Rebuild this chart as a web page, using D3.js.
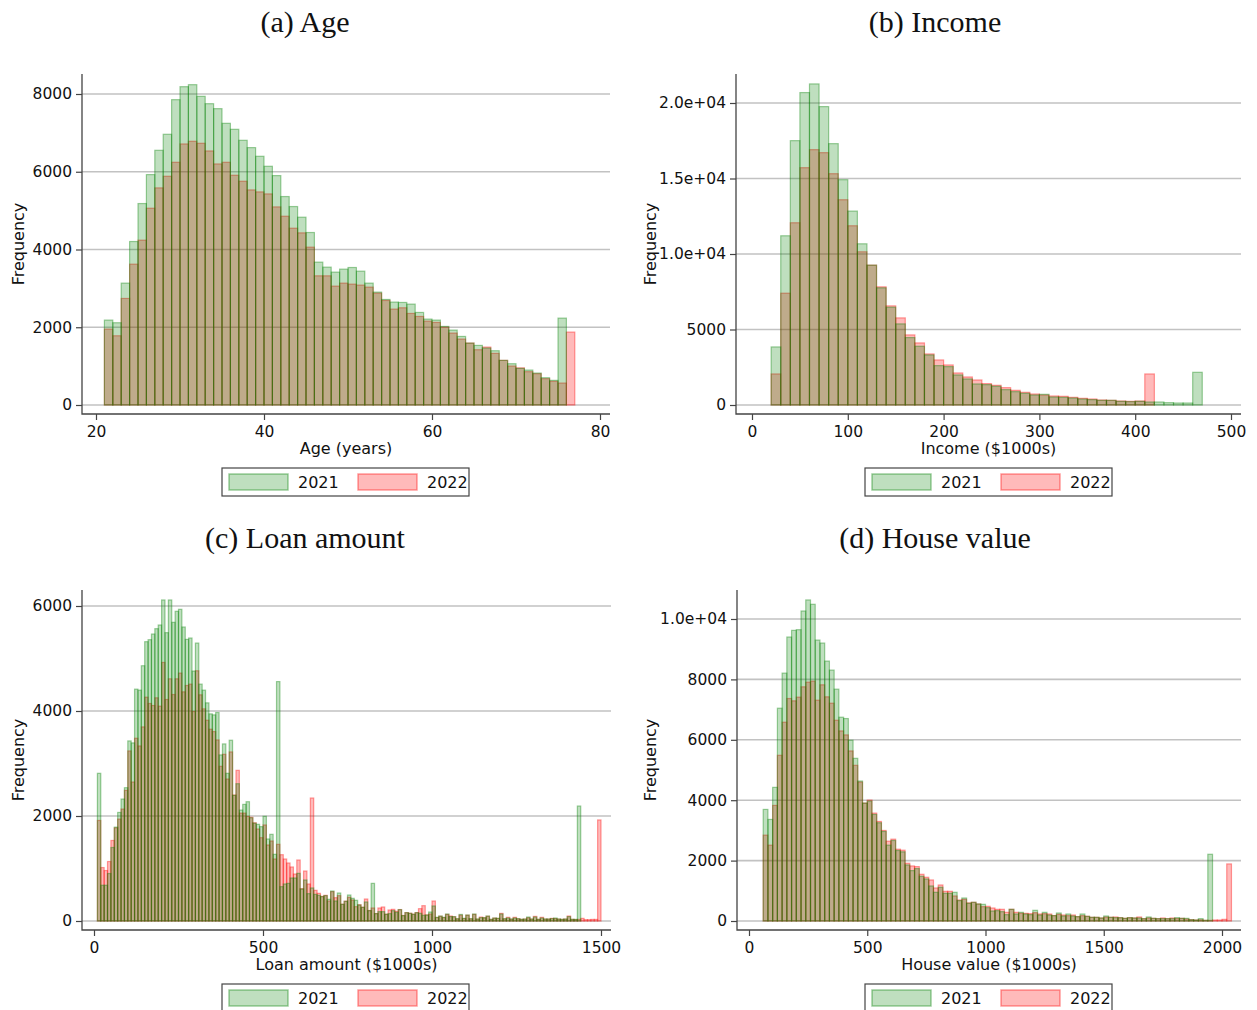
<!DOCTYPE html>
<html>
<head>
<meta charset="utf-8">
<script src="https://cdn.jsdelivr.net/npm/d3@7"></script>
<style>
  body { margin: 0; background: #fff; }
  svg text { font-family: "DejaVu Sans", sans-serif; fill: #111; }
</style>
</head>
<body>
<svg id="chart" width="1257" height="1010"></svg>
<script>
// ---- data (counts per bin) ----
const years = ['2021', '2022'];

// (a) Age, 1-year bins starting at 21
const ageStart = 21, ageWidth = 1;
const age2021 = [2184,2116,3135,4205,5182,5927,6552,6964,7854,8188,8240,7940,7751,7623,7246,7092,6809,6621,6398,6141,
  5901,5362,5105,4831,4437,3675,3546,3418,3495,3537,3443,3135,2904,2715,2647,2638,2595,2381,2210,2184,
  2021,1927,1764,1593,1533,1465,1396,1148,1062,942,899,822,702,634,2235,0];
const age2022 = [1953,1781,2741,3623,4240,5062,5585,5884,6244,6715,6784,6732,6535,6201,6244,5910,5756,5533,5482,5430,
  5096,4856,4548,4428,4060,3323,3323,3058,3135,3109,3084,3032,2878,2689,2467,2501,2355,2278,2158,2124,
  2004,1850,1696,1593,1422,1490,1328,1148,1002,955,857,805,677,608,565,1876];

// (b) Income, $10k bins starting at 20
const incStart = 20, incWidth = 10;
const inc2021 = [3846,11207,17507,20690,21264,19761,17308,14920,12843,10676,9262,7759,6477,5371,4465,3890,3316,2608,2542,1989,
  1724,1393,1348,1238,1017,884,774,663,707,530,508,464,398,354,309,309,243,221,243,199,199,155,133,133,2166];
const inc2022 = [2056,7405,12069,15716,16910,16711,15318,13594,11870,10146,9262,7825,6565,5769,4642,4111,3382,2984,2653,2122,
  1857,1658,1415,1304,1149,973,840,729,663,597,575,508,442,398,332,309,265,243,265,2056,0,0,0,0,0];

// (c) Loan amount, $10k bins starting at 10
const loanStart = 10, loanWidth = 10;
const loan2021 = [2813,681,681,904,1400,1788,2068,2323,2539,3430,
  3392,4416,4397,4862,5320,5358,5466,5568,5638,6115,
  5492,6115,5689,5899,5937,5600,5364,5390,4760,5294,
  4512,4397,4155,3945,3926,3971,3163,3373,2813,3443,
  2393,2615,2113,2221,2272,1966,1864,1841,1797,1994,
  1562,1651,1270,4560,654,705,717,819,819,908,
  610,781,521,629,508,489,463,483,413,571,
  381,533,317,375,495,432,394,305,260,362,
  197,717,140,178,178,127,140,197,165,216,
  102,159,146,127,159,146,108,114,171,286,
  70,95,70,133,83,83,44,125,51,114,
  44,133,38,63,63,95,32,57,51,133,
  44,57,38,57,44,32,38,76,38,76,
  32,57,38,38,44,57,38,32,38,83,
  32,30,2190,0,0,0,0,0,0];
const loan2022 = [1915,1018,961,1133,1534,1775,1941,2132,2488,3239,
  2647,3481,3334,3697,4263,4143,4104,4251,4092,4925,
  4219,4613,4314,4613,4722,4365,4486,4512,3990,4766,
  4308,4041,3824,3653,3608,3449,2946,3175,2704,3220,
  2400,2870,2055,2055,1992,1975,1870,1752,1587,1829,
  1448,1524,1181,1460,1263,1181,1105,1029,895,1162,
  615,952,705,2343,584,527,468,489,381,559,
  444,483,320,378,451,400,273,310,262,419,
  200,248,142,248,267,130,210,222,184,218,
  105,160,148,130,160,235,292,116,133,381,
  65,90,65,125,95,80,40,110,45,110,
  40,125,35,75,60,90,30,55,48,145,
  40,70,35,70,42,30,36,63,35,88,
  30,70,36,35,50,45,35,30,36,95,
  30,28,30,50,25,25,30,30,1925];

// (d) House value, $20k bins starting at 60
const houseStart = 60, houseWidth = 20;
const house2021 = [3695,3363,4425,7046,8208,9403,9624,9646,10265,10631,
  10487,9303,9204,8606,8308,7677,6748,6704,5985,5387,
  4635,3905,3971,3529,3252,2965,2511,2666,2334,2290,
  1856,1669,1735,1481,1392,1160,950,1116,917,917,
  950,674,762,586,619,564,552,442,331,343,
  309,210,387,232,287,232,210,354,199,287,
  199,177,265,166,232,166,144,232,155,122,
  122,100,166,122,110,110,88,110,100,100,
  77,133,88,77,77,77,77,110,88,88,
  44,33,77,22,2210,0,0,0,0];
const house2022 = [2843,2511,3827,5487,6582,7367,7290,7412,7754,7909,
  7942,7312,7821,7423,7212,6648,6294,6162,5631,5155,
  4602,3905,4004,3573,3296,2998,2644,2710,2378,2345,
  1912,1823,1801,1547,1448,1359,1094,1193,983,983,
  829,696,718,600,619,564,475,486,431,387,
  387,287,387,287,254,254,243,276,232,243,
  232,180,221,199,177,199,144,177,155,122,
  122,100,130,122,133,110,88,110,100,133,
  77,100,88,77,100,77,100,80,88,66,
  44,33,40,22,22,33,33,55,1890];

// ---- layout ----
const panels = [
  { title: '(a) Age', xLabel: 'Age (years)', start: ageStart, width: ageWidth, g: age2021, r: age2022,
    xTicks: [20, 40, 60, 80], yTicks: [0, 2000, 4000, 6000, 8000],
    box: { left: 82, right: 610, top: 74, bottom: 414 },
    xDomain: [20, 80], xRange: [96, 600], yDomain: [0, 8000], yRange: [405, 94],
    cx: 305, titleY: 32, legendX: 222, yLabelX: 24 },
  { title: '(b) Income', xLabel: 'Income ($1000s)', start: incStart, width: incWidth, g: inc2021, r: inc2022,
    xTicks: [0, 100, 200, 300, 400, 500], yTicks: [0, 5000, 10000, 15000, 20000],
    box: { left: 736, right: 1241, top: 74, bottom: 414 },
    xDomain: [0, 500], xRange: [752, 1231], yDomain: [0, 20000], yRange: [405, 103],
    cx: 935, titleY: 32, legendX: 865, yLabelX: 656 },
  { title: '(c) Loan amount', xLabel: 'Loan amount ($1000s)', start: loanStart, width: loanWidth, g: loan2021, r: loan2022,
    xTicks: [0, 500, 1000, 1500], yTicks: [0, 2000, 4000, 6000],
    box: { left: 82, right: 611, top: 590, bottom: 930 },
    xDomain: [0, 1500], xRange: [94, 601], yDomain: [0, 6000], yRange: [921, 606],
    cx: 305, titleY: 548, legendX: 222, yLabelX: 24 },
  { title: '(d) House value', xLabel: 'House value ($1000s)', start: houseStart, width: houseWidth, g: house2021, r: house2022,
    xTicks: [0, 500, 1000, 1500, 2000], yTicks: [0, 2000, 4000, 6000, 8000, 10000],
    box: { left: 737, right: 1241, top: 590, bottom: 930 },
    xDomain: [0, 2000], xRange: [749, 1222], yDomain: [0, 10000], yRange: [921, 619],
    cx: 935, titleY: 548, legendX: 865, yLabelX: 656 }
];

const green = { fill: 'rgba(0,128,0,0.25)', stroke: 'rgba(0,128,0,0.38)' };
const red = { fill: 'rgba(255,0,0,0.27)', stroke: 'rgba(255,0,0,0.38)' };
const serif = '"Palatino Linotype", Palatino, "Liberation Serif", serif';
const fmtY = v => v >= 10000 ? (v / 1e4).toFixed(1) + 'e+04' : String(v);

const svg = d3.select('#chart');

function drawPanel(p) {
  const x = d3.scaleLinear().domain(p.xDomain).range(p.xRange);
  const y = d3.scaleLinear().domain(p.yDomain).range(p.yRange);
  const b = p.box;
  const g = svg.append('g');

  g.append('text')
    .attr('x', p.cx).attr('y', p.titleY)
    .attr('text-anchor', 'middle')
    .style('font-family', serif)
    .style('font-size', '30px')
    .text(p.title);

  // gridlines
  g.selectAll('.grid').data(p.yTicks).join('line')
    .attr('x1', b.left).attr('x2', b.right)
    .attr('y1', d => y(d)).attr('y2', d => y(d))
    .attr('stroke', '#c2c2c2')
    .attr('stroke-width', 1.6);

  // bars: 2022 underneath, 2021 on top
  [[p.r, red], [p.g, green]].forEach(([vals, col]) => {
    g.append('g').selectAll('rect')
      .data(vals.map((v, i) => ({ v, x0: p.start + i * p.width, x1: p.start + (i + 1) * p.width })).filter(d => d.v > 0))
      .join('rect')
      .attr('x', d => x(d.x0))
      .attr('width', d => x(d.x1) - x(d.x0))
      .attr('y', d => y(d.v))
      .attr('height', d => y(0) - y(d.v))
      .attr('fill', col.fill)
      .attr('stroke', col.stroke)
      .attr('stroke-width', 1.2);
  });

  // axes
  const yAxis = g.append('g')
    .attr('transform', `translate(${b.left},0)`)
    .call(d3.axisLeft(y).tickValues(p.yTicks).tickFormat(fmtY).tickSize(6).tickPadding(4));
  const xAxis = g.append('g')
    .attr('transform', `translate(0,${b.bottom})`)
    .call(d3.axisBottom(x).tickValues(p.xTicks).tickFormat(d3.format('d')).tickSize(6).tickPadding(6));
  [yAxis, xAxis].forEach(a => {
    a.select('.domain').remove();
    a.selectAll('line').attr('stroke', '#444').attr('stroke-width', 1.2);
    a.selectAll('text').style('font-size', '15.5px').attr('fill', '#111');
  });

  g.append('path')
    .attr('d', `M${b.left},${b.top}V${b.bottom}H${b.right}`)
    .attr('fill', 'none')
    .attr('stroke', '#444')
    .attr('stroke-width', 1.3);

  g.append('text')
    .attr('x', (b.left + b.right) / 2).attr('y', b.bottom + 40)
    .attr('text-anchor', 'middle')
    .style('font-size', '16px')
    .text(p.xLabel);

  g.append('text')
    .attr('transform', `translate(${p.yLabelX},${(b.top + b.bottom) / 2}) rotate(-90)`)
    .attr('text-anchor', 'middle')
    .style('font-size', '16px')
    .text('Frequency');

  // legend
  const lg = g.append('g').attr('transform', `translate(${p.legendX},${b.bottom + 54})`);
  lg.append('rect')
    .attr('width', 247).attr('height', 28)
    .attr('fill', '#fff').attr('stroke', '#444').attr('stroke-width', 1.2);
  [green, red].forEach((col, i) => {
    lg.append('rect')
      .attr('x', 7 + i * 129).attr('y', 6)
      .attr('width', 59).attr('height', 16)
      .attr('fill', col.fill).attr('stroke', col.stroke).attr('stroke-width', 1.5);
    lg.append('text')
      .attr('x', 76 + i * 129).attr('y', 20)
      .style('font-size', '16px')
      .text(years[i]);
  });
}

panels.forEach(drawPanel);
</script>
</body>
</html>
